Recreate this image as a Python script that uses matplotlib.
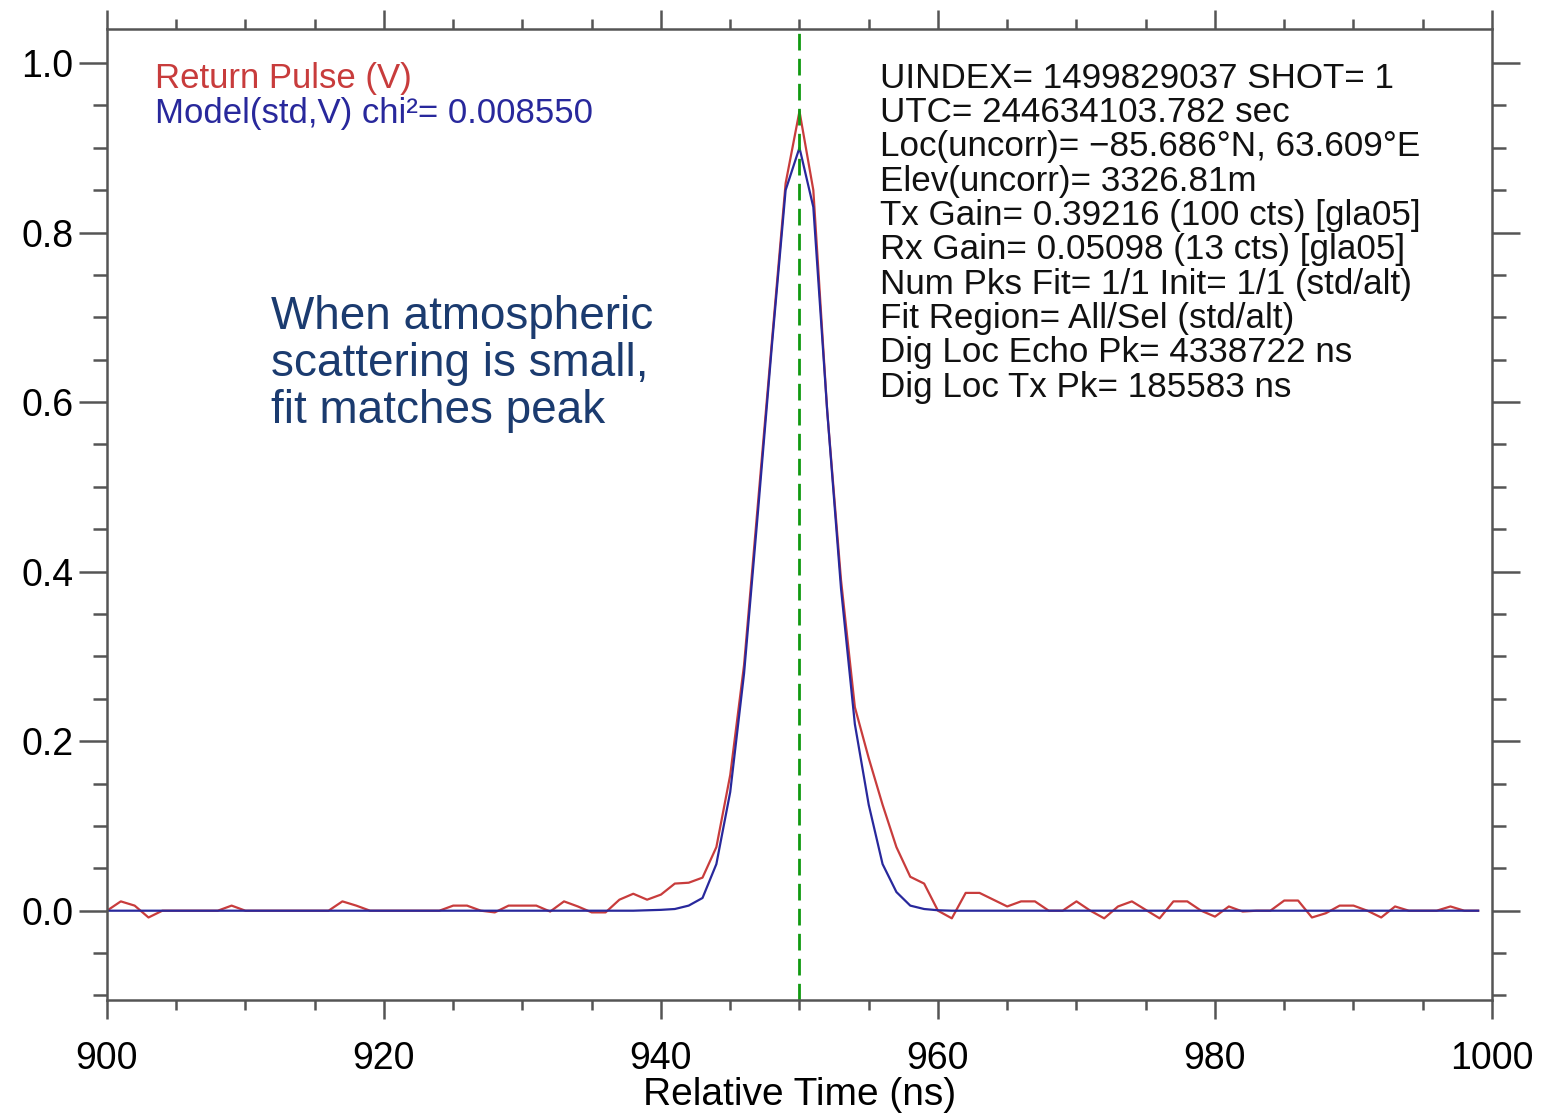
import numpy as np
import matplotlib
matplotlib.use("Agg")
import matplotlib.pyplot as plt
from matplotlib.ticker import MultipleLocator

plt.rcParams['font.family'] = ['Liberation Sans', 'DejaVu Sans']

# relative time samples (ns)
time_ns = np.arange(900, 1000)

# measured return pulse (V)
return_pulse = [
    0.0, 0.011, 0.006, -0.008, 0.0, 0.0, 0.0, 0.0, 0.0, 0.006,
    0.0, 0.0, 0.0, 0.0, 0.0, 0.0, 0.0, 0.011, 0.006, 0.0,
    0.0, 0.0, 0.0, 0.0, 0.0, 0.006, 0.006, 0.0, -0.002, 0.006,
    0.006, 0.006, -0.001, 0.011, 0.005, -0.002, -0.002, 0.013, 0.02, 0.013,
    0.019, 0.032, 0.033, 0.039, 0.075, 0.16, 0.29, 0.48, 0.67, 0.858,
    0.943, 0.85, 0.59, 0.39, 0.24, 0.18, 0.125, 0.075, 0.04, 0.032,
    0.0, -0.009, 0.021, 0.021, 0.013, 0.005, 0.011, 0.011, 0.0, 0.0,
    0.011, 0.0, -0.009, 0.005, 0.011, 0.001, -0.009, 0.011, 0.011, 0.0,
    -0.007, 0.005, -0.001, 0.0, 0.0, 0.012, 0.012, -0.008, -0.003, 0.006,
    0.006, 0.0, -0.008, 0.005, 0.0, 0.0, 0.0, 0.005, 0.0, 0.0,
]

# fitted gaussian model (std, V)
model_fit = [
    0.0, 0.0, 0.0, 0.0, 0.0, 0.0, 0.0, 0.0, 0.0, 0.0,
    0.0, 0.0, 0.0, 0.0, 0.0, 0.0, 0.0, 0.0, 0.0, 0.0,
    0.0, 0.0, 0.0, 0.0, 0.0, 0.0, 0.0, 0.0, 0.0, 0.0,
    0.0, 0.0, 0.0, 0.0, 0.0, 0.0, 0.0, 0.0, 0.0, 0.0005,
    0.001, 0.002, 0.006, 0.015, 0.055, 0.14, 0.28, 0.47, 0.665, 0.85,
    0.90, 0.83, 0.59, 0.38, 0.22, 0.125, 0.055, 0.022, 0.006, 0.002,
    0.0005, 0.0, 0.0, 0.0, 0.0, 0.0, 0.0, 0.0, 0.0, 0.0,
    0.0, 0.0, 0.0, 0.0, 0.0, 0.0, 0.0, 0.0, 0.0, 0.0,
    0.0, 0.0, 0.0, 0.0, 0.0, 0.0, 0.0, 0.0, 0.0, 0.0,
    0.0, 0.0, 0.0, 0.0, 0.0, 0.0, 0.0, 0.0, 0.0, 0.0,
]

peak_time = 950

info_lines = [
    "UINDEX= 1499829037 SHOT= 1",
    "UTC= 244634103.782 sec",
    "Loc(uncorr)= \u221285.686\u00b0N, 63.609\u00b0E",
    "Elev(uncorr)= 3326.81m",
    "Tx Gain= 0.39216 (100 cts) [gla05]",
    "Rx Gain= 0.05098 (13 cts) [gla05]",
    "Num Pks Fit= 1/1 Init= 1/1 (std/alt)",
    "Fit Region= All/Sel (std/alt)",
    "Dig Loc Echo Pk= 4338722 ns",
    "Dig Loc Tx Pk= 185583 ns",
]

red = '#c83c3c'
blue = '#28289c'
axis_col = '#555555'

fig = plt.figure(figsize=(15.41, 11.17), dpi=100)
ax = fig.add_axes([0.0694, 0.105, 0.8988, 0.869])

ax.plot(time_ns, return_pulse, color=red, linewidth=1.6)
ax.plot(time_ns, model_fit, color=blue, linewidth=1.6)
ax.axvline(peak_time, color='#119911', linestyle=(0, (6, 3)), linewidth=2)

ax.set_xlim(900, 1000)
ax.set_ylim(-0.105, 1.04)
ax.xaxis.set_major_locator(MultipleLocator(20))
ax.xaxis.set_minor_locator(MultipleLocator(5))
ax.yaxis.set_major_locator(MultipleLocator(0.2))
ax.yaxis.set_minor_locator(MultipleLocator(0.05))
ax.yaxis.set_major_formatter(plt.FuncFormatter(lambda v, p: f"{v:.1f}"))

ax.tick_params(axis='both', which='both', direction='out', color=axis_col, width=1.8)
ax.tick_params(axis='x', which='major', length=14, pad=16, labelsize=27,
               top=True, labeltop=False)
ax.tick_params(axis='x', which='minor', length=7, top=True)
ax.tick_params(axis='y', which='major', length=20, pad=4, labelsize=27,
               right=True, labelright=False)
ax.tick_params(axis='y', which='minor', length=10, right=True)
for s in ax.spines.values():
    s.set_color(axis_col)
    s.set_linewidth(1.8)

ax.set_xlabel("Relative Time (ns)", fontsize=28, labelpad=0)

# legend-like labels in the upper left corner
ax.text(0.0347, 0.9495, "Return Pulse (V)", transform=ax.transAxes,
        color=red, fontsize=25, va='center', ha='left')
ax.text(0.0347, 0.9135, "Model(std,V) chi\u00b2= 0.008550", transform=ax.transAxes,
        color=blue, fontsize=25, va='center', ha='left')

# info block at upper right
for i, line in enumerate(info_lines):
    ax.text(0.5585, 0.9495 - i * 0.0354, line, transform=ax.transAxes,
            fontsize=25.2, color='#111111', va='center', ha='left')

ax.text(0.1187, 0.655,
        "When atmospheric\nscattering is small,\nfit matches peak",
        transform=ax.transAxes, fontsize=33, color='#1b3b6f',
        va='center', ha='left', linespacing=1.1)

fig.savefig("out.png", dpi=100, facecolor='white')
